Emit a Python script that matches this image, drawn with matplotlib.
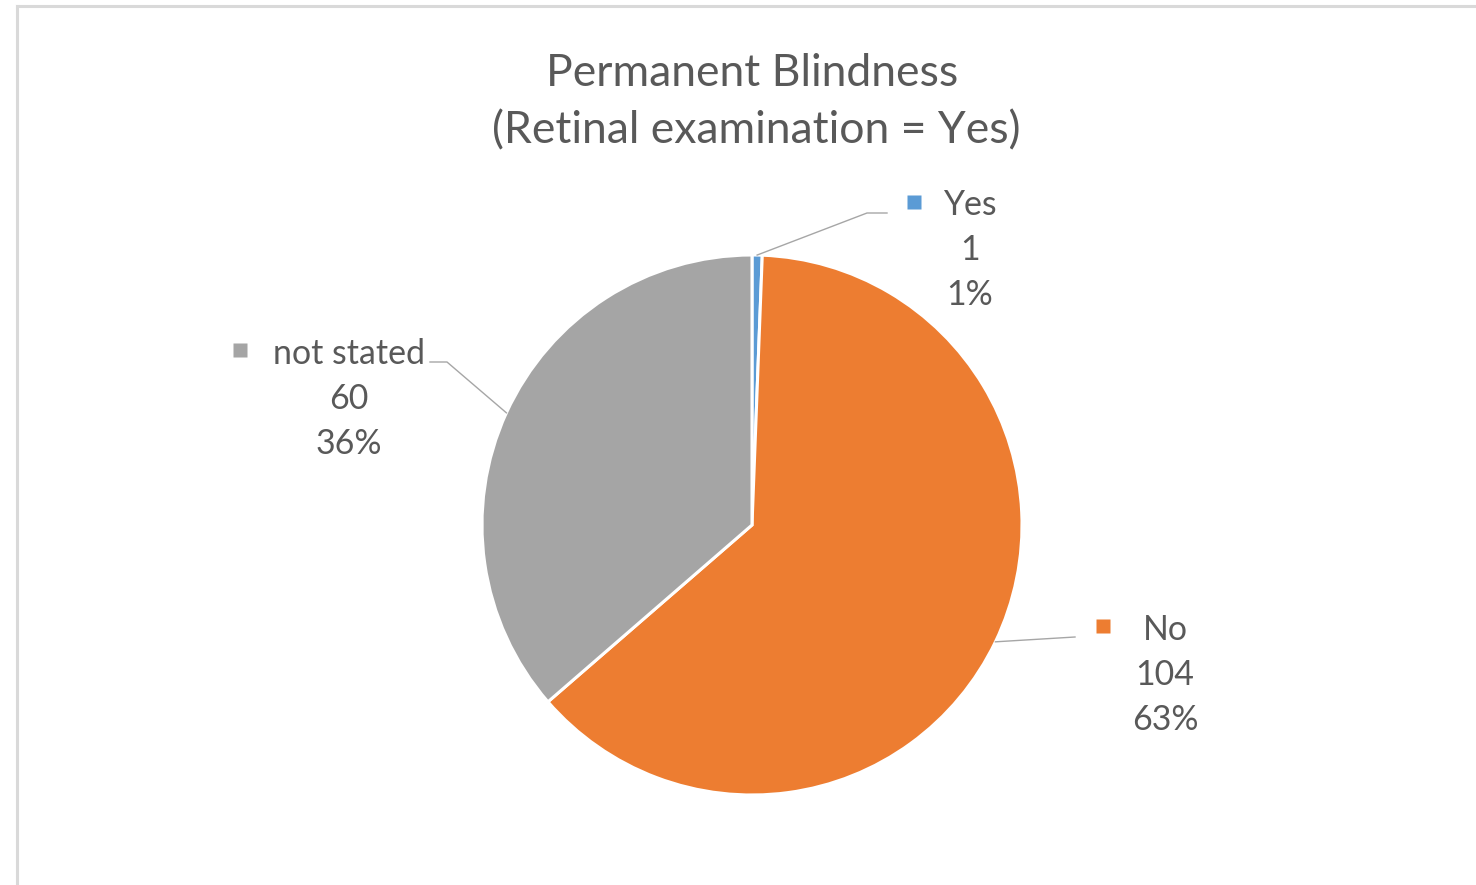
import numpy as np
import matplotlib.pyplot as plt
from matplotlib.lines import Line2D

# data
categories = ['Yes', 'No', 'not stated']
counts = [1, 104, 60]
colors = ['#5B9BD5', '#ED7D31', '#A5A5A5']
title_lines = ['Permanent Blindness', '(Retinal examination = Yes)']

W, H = 1476, 885
plt.rcParams['font.family'] = ['Lato', 'DejaVu Sans']
TEXT = '#595959'

fig = plt.figure(figsize=(W / 100, H / 100), dpi=100)
fig.patch.set_facecolor('white')

# chart frame (only top/left visible in the crop)
fig.add_artist(Line2D([17 / W, 17 / W], [0, 1 - 6 / H], transform=fig.transFigure,
                      color='#D9D9D9', lw=2.2))
fig.add_artist(Line2D([17 / W, 1], [1 - 6 / H, 1 - 6 / H], transform=fig.transFigure,
                      color='#D9D9D9', lw=2.2))

# pie axes: centre (752, 525) px, radius 270 px
cx, cy, r = 752, 525, 270
ax = fig.add_axes([(cx - r) / W, (H - cy - r) / H, 2 * r / W, 2 * r / H])
wedges, _ = ax.pie(counts, colors=colors, startangle=90, counterclock=False,
                   radius=1, wedgeprops=dict(edgecolor='white', linewidth=2.2))
ax.set_xlim(-1, 1)
ax.set_ylim(-1, 1)
ax.set_aspect('equal')
ax.axis('off')


def px(x, y):
    # pixel position -> pie data coords
    return (x - cx) / r, (cy - y) / r


total = sum(counts)
pcts = [round(c / total * 100) for c in counts]

# label layout: leader path (pixel elbows), marker pos, text centre x, first line y
layout = {
    'Yes': dict(path=[(867, 213), (887, 213)], marker=(914, 202), tx=970, ty=205),
    'No': dict(path=[(1075, 637)], marker=(1103, 626), tx=1165, ty=630),
    'not stated': dict(path=[(447, 362), (430, 362)], marker=(240, 350), tx=349, ty=354),
}

for w, cat, n, p, col in zip(wedges, categories, counts, pcts, colors):
    lay = layout[cat]
    ang = np.deg2rad((w.theta1 + w.theta2) / 2)
    xs = [np.cos(ang)] + [px(*pt)[0] for pt in lay['path']]
    ys = [np.sin(ang)] + [px(*pt)[1] for pt in lay['path']]
    ax.plot(xs, ys, color='#A6A6A6', lw=1.0, clip_on=False)
    mx, my = px(*lay['marker'])
    ax.plot(mx, my, marker='s', ms=10.5, color=col, clip_on=False, mec='none')
    for i, line in enumerate([cat, str(n), f'{p}%']):
        x, y = px(lay['tx'], lay['ty'] + 45 * i)
        ax.text(x, y, line, ha='center', va='center', fontsize=24.4, color=TEXT, clip_on=False)

for (tx, ty), line in zip([(752, 73), (756, 131)], title_lines):
    fig.text(tx / W, 1 - ty / H, line, ha='center', va='center', fontsize=32, color=TEXT)

fig.savefig('out.png', dpi=100, facecolor='white')
